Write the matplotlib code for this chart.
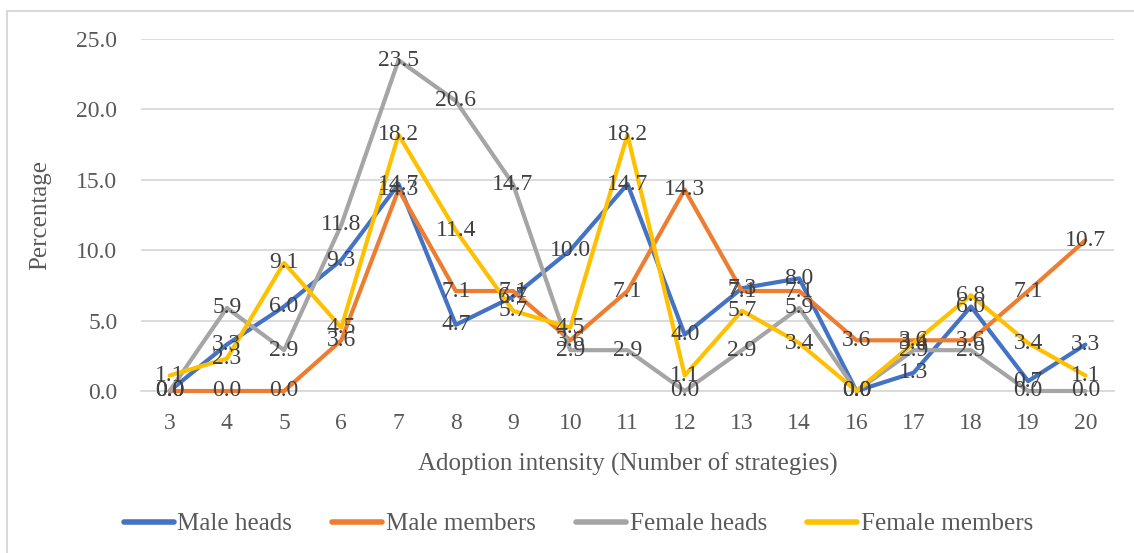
import matplotlib
matplotlib.use("Agg")
import matplotlib.pyplot as plt
from matplotlib.patches import Rectangle

categories = ["3", "4", "5", "6", "7", "8", "9", "10", "11", "12", "13", "14", "16", "17", "18", "19", "20"]
male_heads = [0.0, 3.3, 6.0, 9.3, 14.7, 4.7, 6.7, 10.0, 14.7, 4.0, 7.3, 8.0, 0.0, 1.3, 6.0, 0.7, 3.3]
male_members = [0.0, 0.0, 0.0, 3.6, 14.3, 7.1, 7.1, 3.6, 7.1, 14.3, 7.1, 7.1, 3.6, 3.6, 3.6, 7.1, 10.7]
female_heads = [0.0, 5.9, 2.9, 11.8, 23.5, 20.6, 14.7, 2.9, 2.9, 0.0, 2.9, 5.9, 0.0, 2.9, 2.9, 0.0, 0.0]
female_members = [1.1, 2.3, 9.1, 4.5, 18.2, 11.4, 5.7, 4.5, 18.2, 1.1, 5.7, 3.4, 0.0, 3.4, 6.8, 3.4, 1.1]

series = [
    ("Male heads", male_heads, "#4472C4"),
    ("Male members", male_members, "#ED7D31"),
    ("Female heads", female_heads, "#A5A5A5"),
    ("Female members", female_members, "#FFC000"),
]

plt.rcParams['font.family'] = ['Liberation Serif', 'DejaVu Serif']
W, H = 1134, 553
fig = plt.figure(figsize=(W / 100, H / 100), dpi=100)
ax = fig.add_axes([141 / W, 1 - 391 / H, (1114 - 141) / W, (391 - 39) / H])

x = list(range(len(categories)))
for name, vals, col in series:
    ax.plot(x, vals, color=col, lw=3.0, label=name, solid_joinstyle='round',
            solid_capstyle='round', clip_on=False, zorder=3)
for name, vals, col in series:
    for xi, v in zip(x, vals):
        ax.text(xi, v, f"{v:.1f}", ha='center', va='center', fontsize=17, color='#404040', zorder=5)

ax.set_xlim(-0.5, len(categories) - 0.5)
ax.set_ylim(0, 25)
ax.set_yticks([0, 5, 10, 15, 20, 25])
ax.set_yticklabels([f"{t:.1f}" for t in [0, 5, 10, 15, 20, 25]])
ax.set_xticks(x)
ax.set_xticklabels(categories)
ax.tick_params(axis='both', length=0, labelsize=17, labelcolor='#595959')
ax.tick_params(axis='y', pad=17)
ax.tick_params(axis='x', pad=16)
ax.grid(axis='y', color='#D9D9D9', lw=1.3)
ax.set_axisbelow(True)
for s in ['top', 'right', 'left']:
    ax.spines[s].set_visible(False)
ax.spines['bottom'].set_color('#D9D9D9')
ax.spines['bottom'].set_linewidth(1.3)

ax.set_xlabel("Adoption intensity (Number of strategies)", fontsize=18, color='#595959', labelpad=13)
ax.set_ylabel("Percentage", fontsize=18, color='#595959', labelpad=18)

leg = fig.legend(loc='center', bbox_to_anchor=(0.51, 1 - 524 / H), ncol=4, frameon=False,
                 fontsize=18, handlelength=2.0, columnspacing=1.6, handletextpad=0.15)
for t in leg.get_texts():
    t.set_color('#595959')
for h in leg.legend_handles:
    h.set_linewidth(4)

fig.patches.append(Rectangle((7 / W, -0.05), 1.2, 1 - 11 / H + 0.05, transform=fig.transFigure,
                             fill=False, edgecolor='#D9D9D9', lw=1.5))

fig.savefig("out.png", dpi=100)
